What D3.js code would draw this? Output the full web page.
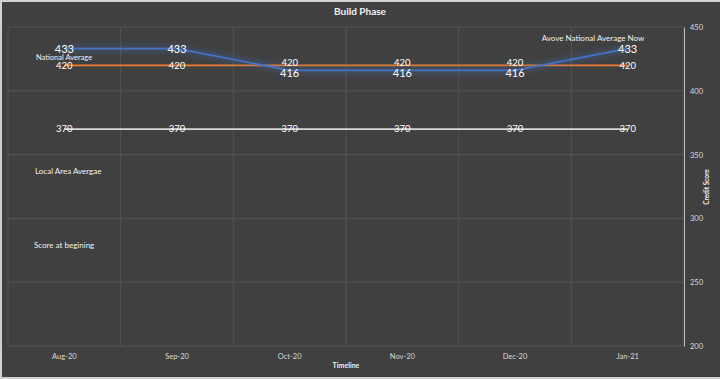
<!DOCTYPE html>
<html><head><meta charset="utf-8">
<script src="https://cdn.jsdelivr.net/npm/d3@7"></script>
<style>
html,body{margin:0;padding:0;background:#404040;}
svg{display:block;}
</style></head>
<body>
<script>
const categories = ["Aug-20","Sep-20","Oct-20","Nov-20","Dec-20","Jan-21"];
const creditScore = [433,433,416,416,416,433];
const nationalAverage = [420,420,420,420,420,420];
const localAverage = [370,370,370,370,370,370];
const yTicks = [200,250,300,350,400,450];
const title = "Build Phase";
const xTitle = "Timeline";
const yTitle = "Credit Score";

(function(){
const W = 720, H = 379;
const font = "Lato, 'Open Sans', 'Liberation Sans', sans-serif";
const svg = d3.select("body").append("svg").attr("width", W).attr("height", H);

svg.append("rect").attr("x",0).attr("y",0).attr("width",W).attr("height",H).attr("fill","#d0d0d0");
svg.append("rect").attr("x",2).attr("y",2).attr("width",W-2).attr("height",H-4).attr("fill","#404040");

const pL = 8, pR = 684, pT = 27, pB = 346;
const x = d3.scaleBand().domain(categories).range([pL, pR]).paddingInner(0).paddingOuter(0);
const y = d3.scaleLinear().domain([200,450]).range([pB, pT]);

const defs = svg.append("defs");
const f = defs.append("filter").attr("id","glow").attr("x","-20%").attr("y","-300%").attr("width","140%").attr("height","700%");
f.append("feGaussianBlur").attr("stdDeviation",3);

const grid = svg.append("g");
grid.selectAll("line.h").data(yTicks).enter().append("line")
  .attr("x1", pL).attr("x2", pR).attr("y1", d=>y(d)).attr("y2", d=>y(d))
  .attr("stroke","#545454").attr("stroke-width",1);
const vEdges = categories.map(c=>x(c)).concat([pR]);
grid.selectAll("line.v").data(vEdges).enter().append("line")
  .attr("x1", d=>d).attr("x2", d=>d).attr("y1", pT).attr("y2", pB)
  .attr("stroke","#545454").attr("stroke-width",1);

const yAxis = d3.axisRight(y).tickValues(yTicks).tickSize(0).tickPadding(6);
const ga = svg.append("g").attr("transform",`translate(${pR},0)`).call(yAxis);
ga.select(".domain").attr("stroke","#bfbfbf").attr("stroke-width",1);
ga.selectAll("text").attr("fill","#d9d9d9").attr("font-size",7.5).attr("font-family",font);

const xAxis = d3.axisBottom(x).tickSize(0).tickPadding(8);
const gx = svg.append("g").attr("transform",`translate(0,${pB})`).call(xAxis);
gx.select(".domain").remove();
gx.selectAll("text").attr("fill","#d9d9d9").attr("font-size",7.5).attr("font-family",font);

const cx = c => x(c) + x.bandwidth()/2;
const line = vals => d3.line().x((d,i)=>cx(categories[i])).y(d=>y(d))(vals);

const series = [
  {key:"loc", vals: localAverage, color:"#d9d9d9", fs:9.5},
  {key:"nat", vals: nationalAverage, color:"#ed7d31", fs:9.5},
  {key:"cs", vals: creditScore, color:"#4472c4", fs:11},
];
series.forEach(s=>{
  svg.append("path").attr("d", line(s.vals)).attr("fill","none")
    .attr("stroke", s.color).attr("stroke-width",4).attr("stroke-opacity",0.5).attr("filter","url(#glow)");
  svg.append("path").attr("d", line(s.vals)).attr("fill","none")
    .attr("stroke", s.color).attr("stroke-width",1.8);
});
const nudge = (s, i) => {
  const close = Math.abs(creditScore[i] - nationalAverage[i]) < 8;
  if (!close) return 0;
  if (s.key === "nat") return -3;
  if (s.key === "cs") return 3;
  return 0;
};
series.forEach(s=>{
  svg.append("g").selectAll("text").data(s.vals).enter().append("text")
    .attr("x",(d,i)=>cx(categories[i])).attr("y", (d,i)=>y(d) + nudge(s,i))
    .attr("dy","0.35em").attr("text-anchor","middle")
    .attr("fill","#ffffff").attr("font-size",s.fs).attr("font-family",font)
    .text(d=>d);
});

svg.append("text").attr("x",360).attr("y",15).attr("text-anchor","middle")
  .attr("fill","#f2f2f2").attr("font-size",10).attr("font-weight","bold").attr("font-family",font).text(title);
svg.append("text").attr("x",346).attr("y",368).attr("text-anchor","middle")
  .attr("fill","#f2f2f2").attr("font-size",7).attr("font-weight","bold").attr("font-family",font).text(xTitle);
svg.append("text").attr("transform","translate(709,187) rotate(-90)").attr("text-anchor","middle")
  .attr("fill","#f2f2f2").attr("font-size",6.5).attr("font-weight","bold").attr("font-family",font).text(yTitle);

const notes = [
  {t:"National Average", x:64, y:57, a:"middle", fs:7.5},
  {t:"Local Area Avergae", x:35, y:171, a:"start", fs:8},
  {t:"Score at begining", x:34, y:245, a:"start", fs:8},
  {t:"Avove National Average Now", x:593, y:38.5, a:"middle", fs:8},
];
svg.append("g").selectAll("text").data(notes).enter().append("text")
  .attr("x",d=>d.x).attr("y",d=>d.y).attr("dy","0.35em").attr("text-anchor",d=>d.a)
  .attr("fill","#f2f2f2").attr("font-size",d=>d.fs).attr("font-family",font).text(d=>d.t);
})();
</script>
</body></html>
